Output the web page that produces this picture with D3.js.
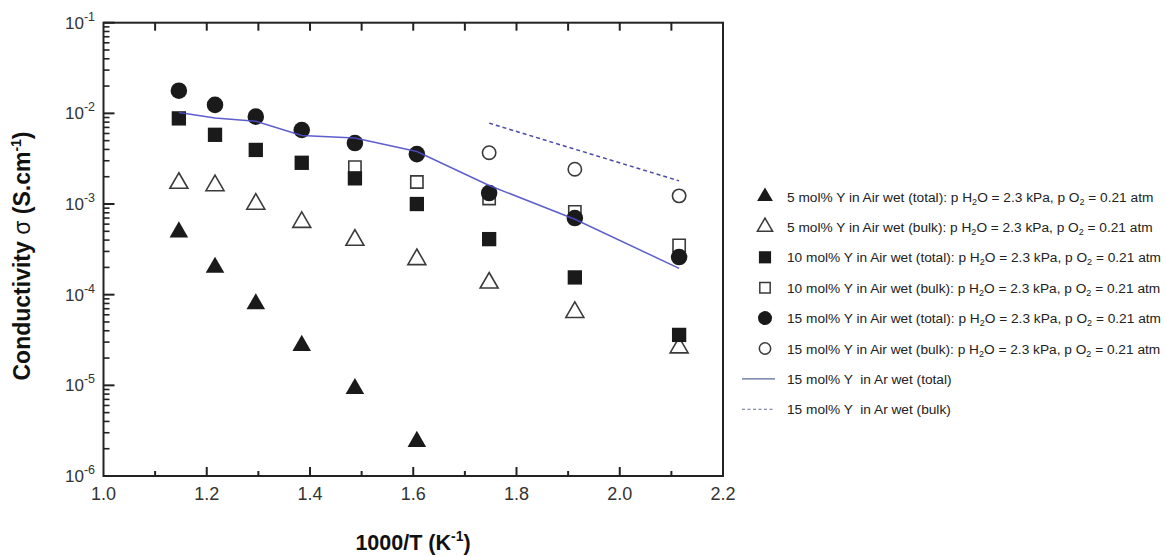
<!DOCTYPE html>
<html>
<head>
<meta charset="utf-8">
<script src="https://cdn.jsdelivr.net/npm/d3@7"></script>
<style>
  body { margin: 0; background: #fff; }
  svg { display: block; font-family: "Liberation Sans", Arial, sans-serif; }
</style>
</head>
<body>
<svg id="chart" width="1166" height="557"></svg>
<script>
  //============================================================
  // Data
  //------------------------------------------------------------

  var invT = [1.146, 1.216, 1.295, 1.384, 1.487, 1.607, 1.747, 1.913, 2.115];

  var air5Total  = [4.9e-4, 2.0e-4, 7.9e-5, 2.75e-5, 9.2e-6, 2.4e-6];
  var air5Bulk   = [1.7e-3, 1.6e-3, 1.0e-3, 6.3e-4, 4.0e-4, 2.45e-4, 1.35e-4, 6.4e-5, 2.6e-5];
  var air10Total = [8.8e-3, 5.8e-3, 3.95e-3, 2.85e-3, 1.92e-3, 1.0e-3, 4.1e-4, 1.55e-4, 3.6e-5];
  var air10Bulk  = [null, null, null, null, 2.55e-3, 1.75e-3, 1.15e-3, 8.2e-4, 3.5e-4];
  var air15Total = [1.78e-2, 1.24e-2, 9.2e-3, 6.55e-3, 4.7e-3, 3.55e-3, 1.32e-3, 7.0e-4, 2.6e-4];
  var air15Bulk  = [null, null, null, null, null, null, 3.68e-3, 2.42e-3, 1.23e-3];

  var ar15Total = [1.02e-2, 8.9e-3, 8.2e-3, 5.7e-3, 5.35e-3, 3.8e-3, 1.6e-3, 6.8e-4, 1.95e-4];
  var ar15BulkX = [1.747, 2.115];
  var ar15Bulk  = [7.8e-3, 1.8e-3];

  var xTicks = [1.0, 1.2, 1.4, 1.6, 1.8, 2.0, 2.2];
  var yExponents = [-1, -2, -3, -4, -5, -6];

  var legendLabels = [
    '5 mol% Y in Air wet (total)',
    '5 mol% Y in Air wet (bulk)',
    '10 mol% Y in Air wet (total)',
    '10 mol% Y in Air wet (bulk)',
    '15 mol% Y in Air wet (total)',
    '15 mol% Y in Air wet (bulk)'
  ];
  var lineLabels = ['15 mol% Y  in Ar wet (total)', '15 mol% Y  in Ar wet (bulk)'];

  //============================================================
  // Setup
  //------------------------------------------------------------

  var svg = d3.select('#chart');

  var frame = {left: 103.5, right: 723, top: 22.7, bottom: 476};

  var x = d3.scaleLinear().domain([1.0, 2.2]).range([frame.left, frame.right]);
  var y = d3.scaleLog().domain([1e-6, 1e-1]).range([frame.bottom, frame.top]);

  var ink = '#1a1a1a',
      openInk = '#3a3a3a',
      lineBlue = '#4c4cc6',
      dashBlue = '#4a4aa8';

  // marker styles, in legend order
  var markers = [
    {type: d3.symbolTriangle, size: 150, fill: ink,    stroke: 'none', data: air5Total},
    {type: d3.symbolTriangle, size: 140, fill: '#fff', stroke: openInk, data: air5Bulk},
    {type: d3.symbolSquare,   size: 205, fill: ink,    stroke: 'none', data: air10Total},
    {type: d3.symbolSquare,   size: 150, fill: '#fff', stroke: openInk, data: air10Bulk},
    {type: d3.symbolCircle,   size: 215, fill: ink,    stroke: 'none', data: air15Total},
    {type: d3.symbolCircle,   size: 140, fill: '#fff', stroke: openInk, data: air15Bulk}
  ];

  function pairs(xs, ys) {
    return ys.map(function(v, i) { return [xs[i], v]; })
             .filter(function(d) { return d[1] !== null; });
  }

  //------------------------------------------------------------
  // Frame & ticks

  var axes = svg.append('g').attr('class', 'axes');

  axes.append('rect')
    .attr('x', frame.left).attr('y', frame.top)
    .attr('width', frame.right - frame.left)
    .attr('height', frame.bottom - frame.top)
    .attr('fill', 'none').attr('stroke', '#222').attr('stroke-width', 2);

  var xMinor = d3.range(11, 22).map(function(d) { return d / 10; });

  // bottom ticks (inward), major at 0.2, minor at 0.1
  axes.selectAll('line.xb').data(xMinor).enter().append('line')
    .attr('class', 'xb')
    .attr('x1', function(d) { return x(d); }).attr('x2', function(d) { return x(d); })
    .attr('y1', frame.bottom)
    .attr('y2', function(d, i) { return frame.bottom - (i % 2 === 1 ? 9 : 5); })
    .attr('stroke', '#222').attr('stroke-width', 2);

  // top ticks
  axes.selectAll('line.xt').data(xMinor).enter().append('line')
    .attr('class', 'xt')
    .attr('x1', function(d) { return x(d); }).attr('x2', function(d) { return x(d); })
    .attr('y1', frame.top)
    .attr('y2', frame.top + 8)
    .attr('stroke', '#222').attr('stroke-width', 2);

  // left ticks: decades + 2..9
  var yMinor = [];
  d3.range(-6, -1).forEach(function(e) {
    d3.range(2, 10).forEach(function(m) { yMinor.push(m * Math.pow(10, e)); });
  });
  var yMajor = yExponents.map(function(e) { return Math.pow(10, e); });

  axes.selectAll('line.ymin').data(yMinor).enter().append('line')
    .attr('class', 'ymin')
    .attr('x1', frame.left).attr('x2', frame.left + 6)
    .attr('y1', function(d) { return y(d); }).attr('y2', function(d) { return y(d); })
    .attr('stroke', '#222').attr('stroke-width', 1.6);

  axes.selectAll('line.ymaj').data(yMajor).enter().append('line')
    .attr('class', 'ymaj')
    .attr('x1', frame.left).attr('x2', frame.left + 11)
    .attr('y1', function(d) { return y(d); }).attr('y2', function(d) { return y(d); })
    .attr('stroke', '#222').attr('stroke-width', 2);

  //------------------------------------------------------------
  // Tick labels

  axes.selectAll('text.xl').data(xTicks).enter().append('text')
    .attr('class', 'xl')
    .attr('x', function(d) { return x(d); })
    .attr('y', 500)
    .attr('text-anchor', 'middle')
    .attr('font-size', 18)
    .attr('fill', '#333')
    .text(function(d) { return d.toFixed(1); });

  var yl = axes.selectAll('text.yl').data(yExponents).enter().append('text')
    .attr('class', 'yl')
    .attr('x', 95)
    .attr('y', function(d) { return y(Math.pow(10, d)) + 6; })
    .attr('text-anchor', 'end')
    .attr('font-size', 17)
    .attr('fill', '#333');
  yl.append('tspan').text('10');
  yl.append('tspan').attr('dy', -8).attr('font-size', 12.5)
    .text(function(d) { return String(d); });

  //------------------------------------------------------------
  // Axis titles

  var xTitle = svg.append('text')
    .attr('x', 413).attr('y', 550)
    .attr('text-anchor', 'middle')
    .attr('font-size', 21.5).attr('font-weight', 'bold').attr('fill', '#111');
  xTitle.append('tspan').text('1000/T (K');
  xTitle.append('tspan').attr('dy', -9).attr('font-size', 14).text('-1');
  xTitle.append('tspan').attr('dy', 9).text(')');

  var yTitle = svg.append('text')
    .attr('transform', 'translate(30,256) rotate(-90)')
    .attr('text-anchor', 'middle')
    .attr('font-size', 23).attr('font-weight', 'bold').attr('fill', '#111');
  yTitle.append('tspan').text('Conductivity ');
  yTitle.append('tspan').attr('font-weight', 'normal').text('σ');
  yTitle.append('tspan').text(' (S.cm');
  yTitle.append('tspan').attr('dy', -9).attr('font-size', 14).text('-1');
  yTitle.append('tspan').attr('dy', 9).text(')');

  //------------------------------------------------------------
  // Markers (open ones first so filled ones sit on top)

  var plot = svg.append('g').attr('class', 'plot');
  var drawOrder = [1, 3, 5, 0, 2, 4];

  drawOrder.forEach(function(k) {
    var m = markers[k];
    var sym = d3.symbol().type(m.type).size(m.size);
    plot.append('g').selectAll('path')
      .data(pairs(invT, m.data))
      .enter().append('path')
        .attr('transform', function(d) { return 'translate(' + x(d[0]) + ',' + y(d[1]) + ')'; })
        .attr('d', sym)
        .attr('fill', m.fill)
        .attr('stroke', m.stroke)
        .attr('stroke-width', 1.6);
  });

  //------------------------------------------------------------
  // Ar lines

  var line = d3.line()
    .x(function(d) { return x(d[0]); })
    .y(function(d) { return y(d[1]); });

  plot.append('path')
    .attr('d', line(pairs(invT, ar15Total)))
    .attr('fill', 'none').attr('stroke', lineBlue).attr('stroke-width', 1.5)
    .attr('stroke-opacity', 0.9);

  plot.append('path')
    .attr('d', line(pairs(ar15BulkX, ar15Bulk)))
    .attr('fill', 'none').attr('stroke', dashBlue).attr('stroke-width', 1.5)
    .attr('stroke-dasharray', '4,3');

  //------------------------------------------------------------
  // Legend

  var legend = svg.append('g').attr('class', 'legend'),
      rowY = function(i) { return 196.5 + i * 30.4; };

  markers.forEach(function(m, i) {
    var g = legend.append('g').attr('transform', 'translate(0,' + rowY(i) + ')');
    g.append('path')
      .attr('transform', 'translate(765,0)')
      .attr('d', d3.symbol().type(m.type).size(m.size * 0.72))
      .attr('fill', m.fill).attr('stroke', m.stroke).attr('stroke-width', 1.5);

    var t = g.append('text')
      .attr('x', 787).attr('y', 5)
      .attr('font-size', 13.7).attr('fill', '#222');
    t.append('tspan').text(legendLabels[i] + ': p H');
    t.append('tspan').attr('dy', 3).attr('font-size', 9).text('2');
    t.append('tspan').attr('dy', -3).text('O = 2.3 kPa, p O');
    t.append('tspan').attr('dy', 3).attr('font-size', 9).text('2');
    t.append('tspan').attr('dy', -3).text(' = 0.21 atm');
  });

  lineLabels.forEach(function(label, j) {
    var g = legend.append('g').attr('transform', 'translate(0,' + rowY(6 + j) + ')');
    g.append('line')
      .attr('x1', 742).attr('x2', 775).attr('y1', 0).attr('y2', 0)
      .attr('stroke', j === 0 ? '#5a6a9a' : '#6a7090').attr('stroke-width', 1.1)
      .attr('stroke-dasharray', j === 0 ? null : '3,2.5');
    g.append('text')
      .attr('x', 787).attr('y', 5)
      .attr('font-size', 13.7).attr('fill', '#222')
      .style('white-space', 'pre')
      .text(label);
  });
</script>
</body>
</html>
